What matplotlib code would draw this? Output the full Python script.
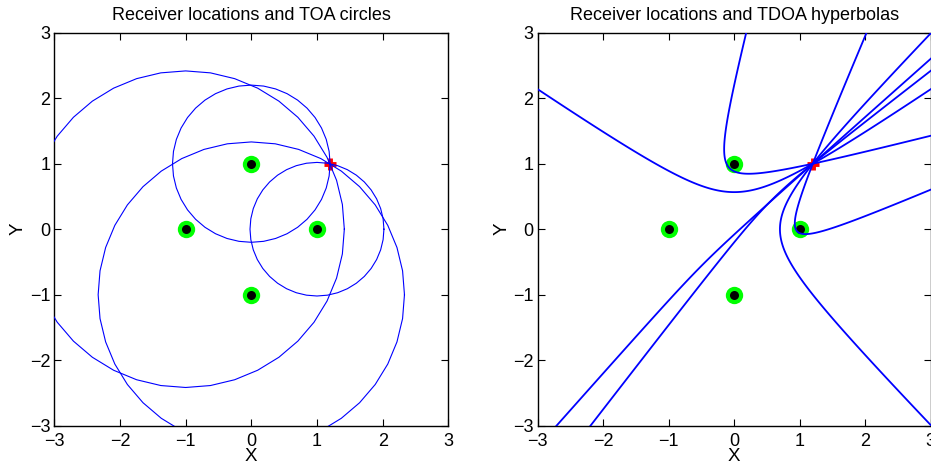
import numpy as np
import matplotlib
matplotlib.use("Agg")
import matplotlib.pyplot as plt

plt.rcParams['font.family'] = ['Liberation Sans', 'DejaVu Sans']

# Receiver positions
rx_x = [0.0, -1.0, 1.0, 0.0]
rx_y = [1.0, 0.0, 0.0, -1.0]
# Source (emitter) position
src_x = 1.2
src_y = 1.0
# Axis range and ticks
lim = [-3, 3]
ticks = [-3, -2, -1, 0, 1, 2, 3]
titles = ["Receiver locations and TOA circles", "Receiver locations and TDOA hyperbolas"]

rx = np.array(rx_x)
ry = np.array(rx_y)
dists = np.hypot(rx - src_x, ry - src_y)

fig = plt.figure(figsize=(9.31, 4.66), dpi=100)
W, H = 931, 466
ax1 = fig.add_axes([54.3 / W, (H - 425.7) / H, 394 / W, 393 / H])
ax2 = fig.add_axes([537.7 / W, (H - 425.7) / H, 393 / W, 393 / H])

def draw_markers(ax):
    ax.plot(rx, ry, 'o', color='#00ff00', markersize=12.5, markeredgewidth=0, zorder=2)
    ax.plot(rx, ry, 'o', color='black', markersize=6.5, markeredgewidth=0, zorder=2.1)
    ax.plot([src_x], [src_y], '+', color='red', markersize=9, markeredgewidth=3.5, zorder=2.2)

# TOA circles
draw_markers(ax1)
theta = np.linspace(0, 2 * np.pi, 41)
for cx, cy, r in zip(rx, ry, dists):
    ax1.plot(cx + r * np.cos(theta), cy + r * np.sin(theta), color='blue', linewidth=0.8, zorder=3)

# TDOA hyperbolas
draw_markers(ax2)
g = np.linspace(-3.2, 3.2, 1200)
X, Y = np.meshgrid(g, g)
D = [np.hypot(X - cx, Y - cy) for cx, cy in zip(rx, ry)]
n = len(rx)
for i in range(n):
    for j in range(i + 1, n):
        F = (D[i] - D[j]) - (dists[i] - dists[j])
        ax2.contour(X, Y, F, levels=[0], colors='blue', linewidths=1.3, zorder=3)

fmt = lambda v: '\u2212%d' % -v if v < 0 else '%d' % v
for ax, t in zip([ax1, ax2], titles):
    ax.set_xlim(lim)
    ax.set_ylim(lim)
    ax.set_xticks(ticks)
    ax.set_yticks(ticks)
    ax.set_xticklabels([fmt(v) for v in ticks])
    ax.set_yticklabels([fmt(v) for v in ticks])
    ax.tick_params(direction='in', length=5, width=0.8, top=True, right=True,
                   labelsize=13)
    ax.tick_params(axis='x', pad=5)
    ax.tick_params(axis='y', pad=3)
    ax.set_xlabel('X', fontsize=13.5, labelpad=-1)
    ax.set_ylabel('Y', fontsize=13.5, labelpad=2)
    ax.set_title(t, fontsize=13, pad=9)
    for s in ax.spines.values():
        s.set_linewidth(1.0)

fig.savefig('out.png', dpi=100)
